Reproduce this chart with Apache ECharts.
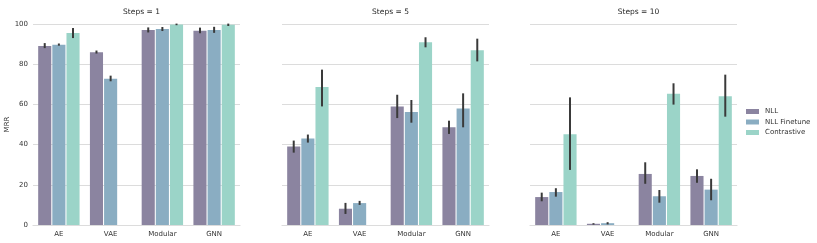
<!DOCTYPE html>
<html>
<head>
<meta charset="utf-8">
<script src="https://cdn.jsdelivr.net/npm/echarts@6/dist/echarts.min.js"></script>
<style>html,body{margin:0;padding:0;background:#fff;}#c{width:817px;height:243px;}</style>
</head>
<body>
<div id="c"></div>
<script>
const categories = ['AE', 'VAE', 'Modular', 'GNN'];
const seriesNames = ['NLL', 'NLL Finetune', 'Contrastive'];
const panelTitles = ['Steps = 1', 'Steps = 5', 'Steps = 10'];
const yTicks = [0, 20, 40, 60, 80, 100];

// values [panel][series][category]; null = missing
const steps1_NLL = [89.0, 86.0, 97.0, 96.7];
const steps1_Fine = [89.7, 72.8, 97.5, 97.0];
const steps1_Con = [95.5, null, 99.8, 99.6];
const steps5_NLL = [39.0, 8.1, 59.0, 48.6];
const steps5_Fine = [43.0, 10.9, 56.2, 57.9];
const steps5_Con = [68.7, null, 90.9, 86.9];
const steps10_NLL = [13.9, 0.6, 25.4, 24.4];
const steps10_Fine = [16.4, 0.9, 14.3, 17.6];
const steps10_Con = [45.1, null, 65.3, 64.0];

// error bars [low, high]
const err1_NLL = [[88.0, 90.5], [85.3, 86.8], [95.8, 98.3], [95.4, 98.2]];
const err1_Fine = [[89.2, 90.3], [71.5, 74.3], [96.5, 98.5], [95.6, 98.6]];
const err1_Con = [[93.0, 98.0], null, [99.4, 100.2], [99.0, 100.2]];
const err5_NLL = [[36.0, 42.0], [5.5, 11.0], [53.2, 64.8], [45.3, 51.9]];
const err5_Fine = [[41.0, 45.0], [10.0, 12.0], [50.9, 62.2], [48.6, 65.5]];
const err5_Con = [[59.0, 77.3], null, [88.4, 93.4], [81.4, 92.7]];
const err10_NLL = [[11.8, 16.1], [0.2, 0.9], [20.5, 31.2], [21.0, 27.7]];
const err10_Fine = [[14.1, 18.3], [0.3, 1.4], [11.1, 17.4], [12.3, 23.0]];
const err10_Con = [[27.4, 63.5], null, [59.9, 70.5], [53.9, 74.8]];

const panelValues = [
  [steps1_NLL, steps1_Fine, steps1_Con],
  [steps5_NLL, steps5_Fine, steps5_Con],
  [steps10_NLL, steps10_Fine, steps10_Con]
];
const panelErrors = [
  [err1_NLL, err1_Fine, err1_Con],
  [err5_NLL, err5_Fine, err5_Con],
  [err10_NLL, err10_Fine, err10_Con]
];

const colors = ['#8b84a0', '#8aadc2', '#9bd4c8'];
const font = 'DejaVu Sans';
const gridLefts = [33, 282, 530];
const gridWidth = 207;
const gridTop = 24;
const gridHeight = 201;
const barGapRatio = 0.08;

const grids = [], xAxes = [], yAxes = [], series = [], titles = [];
for (let p = 0; p < 3; p++) {
  grids.push({left: gridLefts[p], top: gridTop, width: gridWidth, height: gridHeight});
  titles.push({
    text: panelTitles[p], left: gridLefts[p] + gridWidth / 2, top: 3, textAlign: 'center',
    textStyle: {fontFamily: font, fontSize: 7.5, fontWeight: 'normal', color: '#262626'}
  });
  xAxes.push({
    type: 'category', gridIndex: p, data: categories,
    axisLine: {show: true, lineStyle: {color: '#dcdcdc', width: 1.2}},
    axisTick: {show: false},
    axisLabel: {fontFamily: font, fontSize: 7, color: '#333', margin: 6}
  });
  yAxes.push({
    type: 'value', gridIndex: p, min: 0, max: 100, interval: 20,
    name: p === 0 ? 'MRR' : '', nameLocation: 'middle', nameGap: 22, nameRotate: 90,
    nameMoveOverlap: false,
    nameTextStyle: {fontFamily: font, fontSize: 7, color: '#333'},
    axisLine: {show: false}, axisTick: {show: false},
    axisLabel: {show: p === 0, fontFamily: font, fontSize: 7, color: '#333', margin: 5,
      formatter: v => yTicks.includes(v) ? String(v) : ''},
    splitLine: {show: true, lineStyle: {color: '#dcdcdc', width: 1.2}}
  });
  for (let s = 0; s < 3; s++) {
    series.push({
      type: 'bar', name: seriesNames[s], xAxisIndex: p, yAxisIndex: p,
      data: panelValues[p][s].map(v => v === null ? '-' : v),
      barGap: (barGapRatio * 100) + '%', barCategoryGap: '20%',
      itemStyle: {color: colors[s]},
      emphasis: {disabled: true}, z: 2
    });
  }
  const errData = [];
  for (let s = 0; s < 3; s++) {
    panelErrors[p][s].forEach((e, c) => { if (e) errData.push([c, e[0], e[1], s]); });
  }
  series.push({
    type: 'custom', xAxisIndex: p, yAxisIndex: p, data: errData, z: 5,
    renderItem: function (params, api) {
      const c = api.value(0), lo = api.value(1), hi = api.value(2), s = api.value(3);
      const bandW = api.size([1, 0])[0];
      const bw = bandW * 0.8 / (3 + 2 * barGapRatio);
      const step = bw * (1 + barGapRatio);
      const center = api.coord([c, lo]);
      const x = center[0] + (s - 1) * step;
      const yLo = api.coord([c, lo])[1];
      const yHi = api.coord([c, hi])[1];
      return {
        type: 'line',
        shape: {x1: x, y1: yLo, x2: x, y2: yHi},
        style: {stroke: '#3a3a3a', lineWidth: 2}
      };
    }
  });
}

const chart = echarts.init(document.getElementById('c'), null, {renderer: 'canvas'});
chart.setOption({
  animation: false,
  backgroundColor: '#ffffff',
  title: titles,
  grid: grids,
  xAxis: xAxes,
  yAxis: yAxes,
  legend: {
    data: seriesNames, orient: 'vertical', left: 746, top: 108, padding: 0,
    itemWidth: 13, itemHeight: 5, itemGap: 3.5,
    textStyle: {fontFamily: font, fontSize: 7, color: '#333', padding: [0, 0, 0, 1]},
    icon: 'rect'
  },
  series: series
});
</script>
</body>
</html>
